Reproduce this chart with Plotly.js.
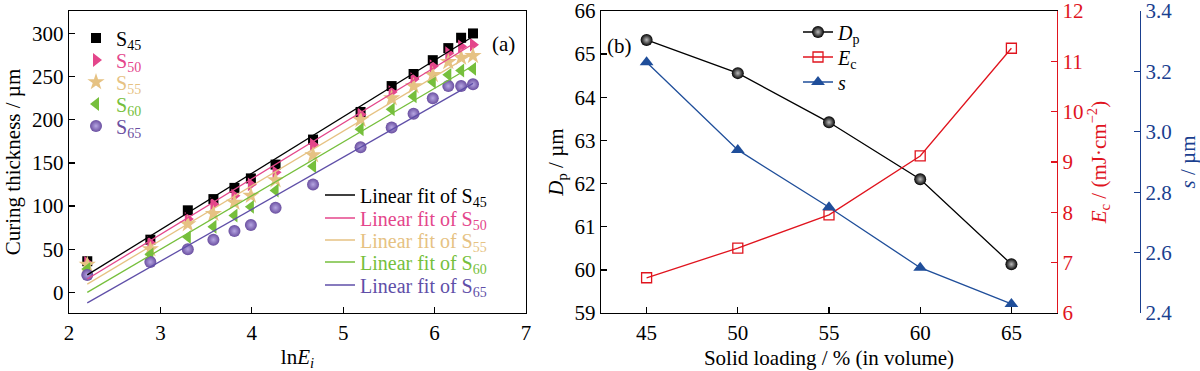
<!DOCTYPE html>
<html>
<head>
<meta charset="utf-8">
<script src="https://cdn.plot.ly/plotly-3.0.1.min.js"></script>
<style>html,body{margin:0;padding:0;background:#fff;}#chart{width:1200px;height:371px;}</style>
</head>
<body>
<div id="chart"></div>
<script>
// ---- Panel (a) data ----
const lnE = [2.20, 2.89, 3.30, 3.58, 3.81, 3.99, 4.26, 4.67, 5.19, 5.53, 5.77, 5.98, 6.15, 6.29, 6.42];
const S45 = [36, 61, 95, 108, 121, 132, 148, 177, 209, 239, 253, 269, 283, 295, 300];
const S50 = [34, 57, 85, 102, 112, 125, 139, 171, 206, 232, 247, 262, 277, 285, 287];
const S55 = [32, 50, 79, 91, 104, 112, 130, 159, 200, 225, 239, 252, 267, 272, 274];
const S60 = [27, 44, 64, 76, 89, 99, 118, 146, 189, 212, 227, 244, 252, 257, 259];
const S65 = [20, 35, 50, 61, 71, 78, 98, 125, 168, 191, 207, 225, 239, 239, 241];
const seriesNames = ['45', '50', '55', '60', '65'];

// ---- Panel (b) data ----
const solid = [45, 50, 55, 60, 65];
const Dp = [65.33, 64.56, 63.42, 62.10, 60.13];
const Ec = [6.70, 7.29, 7.95, 9.12, 11.26];
const sVal = [3.23, 2.94, 2.75, 2.55, 2.43];

const W = 1200, H = 371;
const FONT = '"Liberation Serif", "Times New Roman", serif';
const px = v => v / W;
const py = v => 1 - v / H;
const TOP = 11, BOTTOM = 313;

const seriesY = [S45, S50, S55, S60, S65];
const markerColors = ['#000000', '#e4468b', '#e6c283', '#76bf3c', '#6a4fa0'];
const lineColors = ['#000000', '#e4468b', '#e6c283', '#76bf3c', '#5f4fa8'];
const symbols = ['square', 'triangle-right', 'star', 'triangle-left', 'circle'];
const sizes = [10, 12, 13, 12, 12];

function fit(x, y) {
  const n = x.length;
  const mx = x.reduce((a, b) => a + b, 0) / n;
  const my = y.reduce((a, b) => a + b, 0) / n;
  let sxy = 0, sxx = 0;
  for (let i = 0; i < n; i++) { sxy += (x[i] - mx) * (y[i] - my); sxx += (x[i] - mx) ** 2; }
  const k = sxy / sxx;
  return [k, my - k * mx];
}

const legends = {};
let legendCount = 0;
function addLegend(xPix, yPix) {
  legendCount++;
  const key = legendCount === 1 ? 'legend' : 'legend' + legendCount;
  legends[key] = {
    x: px(xPix), y: py(yPix), xanchor: 'left', yanchor: 'middle', bgcolor: 'rgba(0,0,0,0)',
    font: { family: FONT, size: 20 }, itemclick: false, borderwidth: 0
  };
  return key;
}

const traces = [];
const markLegY = [38, 60, 82, 104, 126];
const lineLegY = [195, 218, 240, 262, 285];
seriesY.forEach((ys, i) => {
  const m = {
    type: 'scatter', mode: 'markers', x: lnE, y: ys, xaxis: 'x', yaxis: 'y',
    name: '<span style="color:' + markerColors[i] + '">S<sub>' + seriesNames[i] + '</sub></span>',
    legend: addLegend(76, markLegY[i]),
    marker: { symbol: symbols[i], size: sizes[i], color: markerColors[i], line: { width: 0 } }
  };
  if (i === 4) m.marker.gradient = { type: 'radial', color: '#b6a6e2' };
  traces.push(m);
});
seriesY.forEach((ys, i) => {
  const [k, b] = fit(lnE, ys);
  const xs = [lnE[0], lnE[lnE.length - 1]];
  traces.push({
    type: 'scatter', mode: 'lines', x: xs, y: xs.map(v => k * v + b), xaxis: 'x', yaxis: 'y',
    name: '<span style="color:' + lineColors[i] + '">Linear fit of S<sub>' + seriesNames[i] + '</sub></span>',
    legend: addLegend(320, lineLegY[i]),
    line: { color: lineColors[i], width: 1.3 }
  });
});

traces.push({
  type: 'scatter', mode: 'lines+markers', x: solid, y: Dp, xaxis: 'x2', yaxis: 'y2',
  name: '<i>D</i><sub>p</sub>', legend: addLegend(798, 32),
  line: { color: '#000', width: 1.3 },
  marker: { symbol: 'circle', size: 12, color: '#000', gradient: { type: 'radial', color: '#bbbbbb' } }
});
traces.push({
  type: 'scatter', mode: 'lines+markers', x: solid, y: Ec, xaxis: 'x2', yaxis: 'y3',
  name: '<i>E</i><sub>c</sub>', legend: addLegend(798, 57),
  line: { color: '#e0141e', width: 1.3 },
  marker: { symbol: 'square-open', size: 10, color: '#e0141e', line: { width: 1.3 } }
});
traces.push({
  type: 'scatter', mode: 'lines+markers', x: solid, y: sVal, xaxis: 'x2', yaxis: 'y4',
  name: '<i>s</i>', legend: addLegend(798, 82),
  line: { color: '#1f4e9a', width: 1.3 },
  marker: { symbol: 'triangle-up', size: 12, color: '#1f4e9a' }
});

const TF = 21;
const tickFont = { family: FONT, size: TF, color: '#000' };
const baseAxis = {
  showgrid: false, zeroline: false, showline: true, linecolor: '#000', linewidth: 1.3,
  ticks: 'inside', ticklen: 6, tickwidth: 1.3, tickcolor: '#000', tickfont: tickFont,
  ticklabeloverflow: 'allow'
};
const red = '#e0141e', blue = '#1a3f8f';
const titleFont = c => ({ family: FONT, size: 21, color: c || '#000' });

const layout = Object.assign({
  width: W, height: H,
  margin: { l: 0, r: 0, t: 0, b: 0 },
  paper_bgcolor: '#fff', plot_bgcolor: 'rgba(0,0,0,0)',
  font: { family: FONT, size: 20, color: '#000' },
  showlegend: true,
  xaxis: Object.assign({}, baseAxis, {
    domain: [px(69), px(526)], range: [2, 7], dtick: 1, mirror: true, anchor: 'y',
    title: { text: 'ln<i>E</i><sub><i>i</i></sub>', font: titleFont(), standoff: 6 }
  }),
  yaxis: Object.assign({}, baseAxis, {
    domain: [py(BOTTOM), py(TOP)], range: [-24, 326], dtick: 50, mirror: true, anchor: 'x',
    title: { text: 'Curing thickness / µm', font: titleFont(), standoff: 5 }
  }),
  xaxis2: Object.assign({}, baseAxis, {
    domain: [px(601), px(1057)], range: [42.5, 67.5], dtick: 5, mirror: true, anchor: 'y2',
    title: { text: 'Solid loading / % (in volume)', font: titleFont(), standoff: 6 }
  }),
  yaxis2: Object.assign({}, baseAxis, {
    domain: [py(BOTTOM), py(TOP)], range: [59, 66], dtick: 1, anchor: 'x2',
    title: { text: '<i>D</i><sub>p</sub> / µm', font: titleFont(), standoff: 5 }
  }),
  yaxis3: Object.assign({}, baseAxis, {
    overlaying: 'y2', side: 'right', anchor: 'x2', range: [6, 12], dtick: 1,
    linecolor: red, tickcolor: red, tickfont: { family: FONT, size: TF, color: red },
    title: { text: '<i>E</i><sub>c</sub> / (mJ·cm<sup>−2</sup>)', font: titleFont(red), standoff: 8 }
  }),
  yaxis4: Object.assign({}, baseAxis, {
    overlaying: 'y2', side: 'right', anchor: 'free', position: px(1140), range: [2.4, 3.4], dtick: 0.2,
    tickformat: '.1f',
    linecolor: blue, tickcolor: blue, tickfont: { family: FONT, size: TF, color: blue },
    title: { text: '<i>s</i> / µm', font: titleFont(blue), standoff: 10 }
  }),
  annotations: [
    { xref: 'paper', yref: 'paper', x: px(503), y: py(30), text: '(a)', showarrow: false, font: { family: FONT, size: 21 } },
    { xref: 'paper', yref: 'paper', x: px(619), y: py(32), text: '(b)', showarrow: false, font: { family: FONT, size: 21 } }
  ]
}, legends);

Plotly.newPlot('chart', traces, layout, { displayModeBar: false, staticPlot: true });
</script>
</body>
</html>
